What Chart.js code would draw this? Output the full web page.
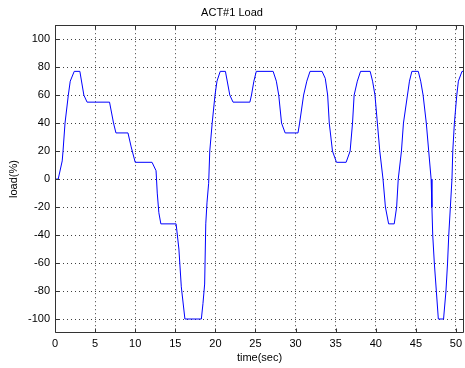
<!DOCTYPE html>
<html>
<head>
<meta charset="utf-8">
<script src="https://cdn.jsdelivr.net/npm/chart.js@4/dist/chart.umd.min.js"></script>
<style>
  body { margin: 0; background: #fff; }
  canvas { display: block; }
</style>
</head>
<body>
<canvas id="loadChart" width="465" height="368"></canvas>
<script>
// values
const times = [0, 0.4, 0.9, 1.0, 1.25, 1.66, 1.9, 2.4, 3.1, 3.6, 4.0, 6.8, 7.3, 7.6, 9.1, 9.5, 10.0,
  12.1, 12.6, 12.75, 12.95, 13.2, 15.1, 15.45, 15.75, 16.2, 18.25, 18.45, 18.66, 18.8, 18.95, 19.16,
  19.3, 19.6, 19.95, 20.2, 20.6, 21.25, 21.8, 22.2, 24.3, 24.5, 24.8, 25.1, 27.2, 27.6, 27.9, 28.25,
  28.7, 30.3, 30.5, 31.0, 31.4, 31.8, 33.3, 33.7, 34.0, 34.2, 34.6, 35.1, 36.3, 36.8, 37.1, 37.3,
  37.7, 38.1, 39.3, 39.6, 39.9, 40.2, 40.5, 40.9, 41.2, 41.6, 42.3, 42.6, 42.8, 43.2, 43.45, 43.95,
  44.2, 44.5, 45.3, 45.6, 45.9, 46.3, 46.6, 46.9, 47.0, 47.1, 47.3, 47.55, 47.8, 48.45, 48.75, 48.95,
  49.1, 49.3, 49.5, 49.6, 49.8, 50.1, 50.3, 50.75, 51];
const loads = [0, 0, 13, 20, 40, 60, 70, 77, 77, 60, 55, 55, 40, 33, 33, 23, 12,
  12, 6, -10, -24, -32, -32, -50, -77, -100, -100, -89, -75, -32, -17, -3,
  20, 40, 60, 70, 77, 77, 60, 55, 55, 60, 70, 77, 77, 70, 60, 40,
  33, 33, 40, 60, 70, 77, 77, 72, 60, 40, 20, 12, 12, 20, 40, 60,
  70, 77, 77, 70, 60, 40, 20, 0, -20, -32, -32, -20, 0, 20, 40, 60,
  70, 77, 77, 70, 60, 40, 20, 0, -20, -40, -60, -80, -100, -100, -80, -60,
  -40, -20, 0, 20, 40, 60, 70, 77, 77];
const xTicks = [0, 5, 10, 15, 20, 25, 30, 35, 40, 45, 50];
const yTicks = [-100, -80, -60, -40, -20, 0, 20, 40, 60, 80, 100];

const FONT = "'Liberation Sans', Arial, sans-serif";

// MATLAB style box with inward tick marks
const boxPlugin = {
  id: 'box',
  afterDraw(chart) {
    const ctx = chart.ctx;
    const a = chart.chartArea;
    const xs = chart.scales.x, ys = chart.scales.y;
    ctx.save();
    ctx.strokeStyle = '#333';
    ctx.lineWidth = 1;
    const l = Math.round(a.left) + 0.5, r = Math.round(a.right) - 0.5;
    const t = Math.round(a.top) + 0.5, b = Math.round(a.bottom) - 0.5;
    ctx.beginPath();
    ctx.rect(l, t, r - l, b - t);
    xTicks.forEach(v => {
      const px = Math.round(xs.getPixelForValue(v)) + 0.5;
      ctx.moveTo(px, b); ctx.lineTo(px, b - 4);
      ctx.moveTo(px, t); ctx.lineTo(px, t + 4);
    });
    yTicks.forEach(v => {
      const py = Math.round(ys.getPixelForValue(v)) + 0.5;
      ctx.moveTo(l, py); ctx.lineTo(l + 4, py);
      ctx.moveTo(r, py); ctx.lineTo(r - 4, py);
    });
    ctx.stroke();
    ctx.restore();
  }
};

const points = times.map((t, i) => ({ x: t, y: loads[i] }));

new Chart(document.getElementById('loadChart'), {
  type: 'line',
  data: {
    datasets: [{
      data: points,
      borderColor: '#0000ff',
      borderWidth: 1,
      pointRadius: 0,
      tension: 0,
      fill: false
    }]
  },
  options: {
    responsive: false,
    animation: false,
    layout: { padding: { left: 0, right: 1, top: 0, bottom: 0 } },
    plugins: {
      legend: { display: false },
      tooltip: { enabled: false },
      title: {
        display: true,
        text: 'ACT#1 Load',
        color: '#000',
        font: { family: FONT, size: 11, weight: 'normal' },
        padding: { top: 6, bottom: 6 }
      }
    },
    scales: {
      x: {
        type: 'linear',
        min: 0,
        max: 51,
        afterBuildTicks(scale) { scale.ticks = xTicks.map(v => ({ value: v })); },
        afterFit(scale) { scale.height = 35; scale.paddingLeft = 0; scale.paddingRight = 0; },
        ticks: { color: '#000', font: { family: FONT, size: 11 }, padding: 4, maxRotation: 0 },
        grid: { color: 'rgba(0,0,0,0.75)', drawTicks: false, lineWidth: 1 },
        border: { display: false, dash: [1, 3] },
        title: {
          display: true, text: 'time(sec)', color: '#000',
          font: { family: FONT, size: 11 }, padding: { top: 0, bottom: 3 }
        }
      },
      y: {
        type: 'linear',
        min: -110,
        max: 110,
        afterBuildTicks(scale) { scale.ticks = yTicks.map(v => ({ value: v })); },
        afterFit(scale) { scale.width = 55; scale.paddingTop = 0; scale.paddingBottom = 0; },
        ticks: { color: '#000', font: { family: FONT, size: 11 }, padding: 5 },
        grid: { color: 'rgba(0,0,0,0.75)', drawTicks: false, lineWidth: 1 },
        border: { display: false, dash: [1, 3] },
        title: {
          display: true, text: 'load(%)', color: '#000',
          font: { family: FONT, size: 11 }, padding: { top: 7, bottom: 4 }
        }
      }
    }
  },
  plugins: [boxPlugin]
});
</script>
</body>
</html>
